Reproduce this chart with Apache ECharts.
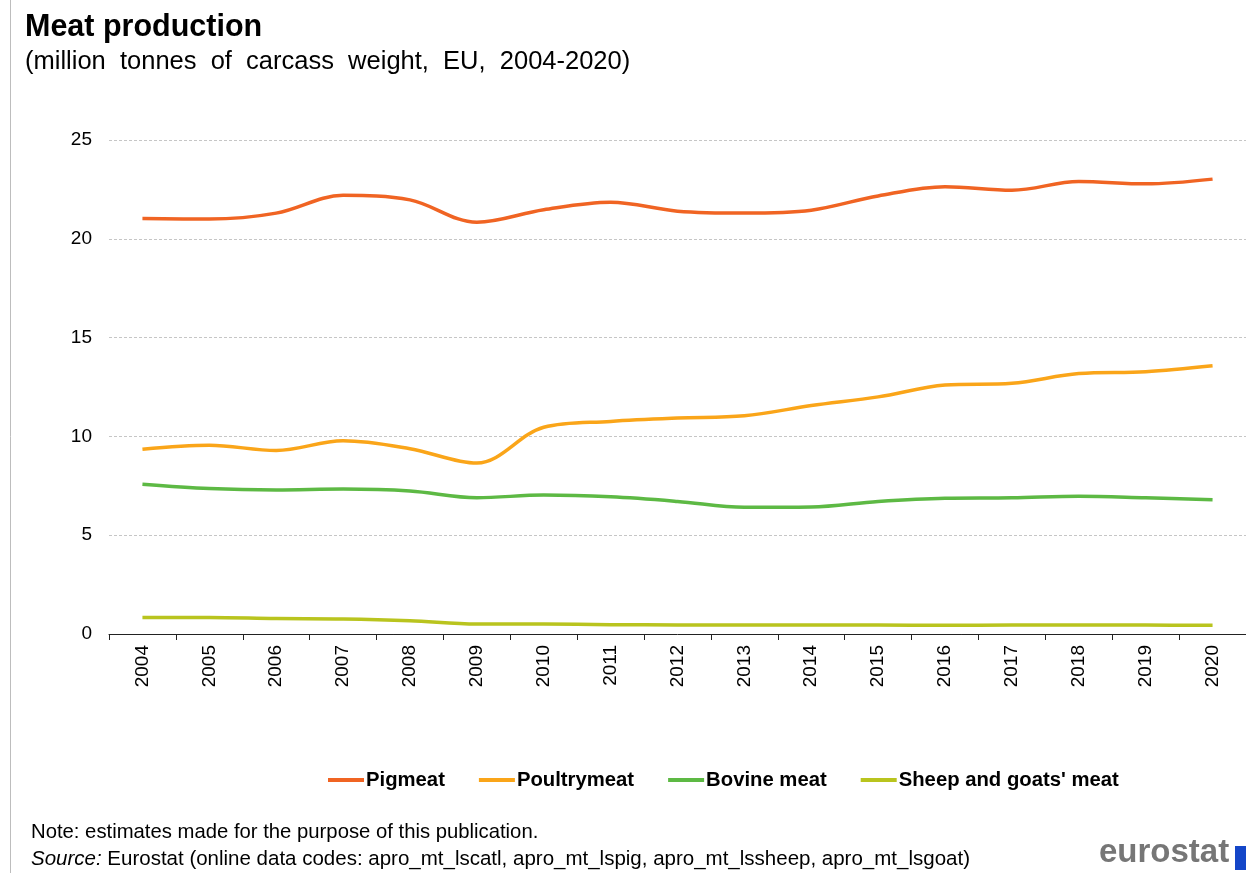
<!DOCTYPE html>
<html>
<head>
<meta charset="utf-8">
<title>Meat production</title>
<script src="https://cdn.jsdelivr.net/npm/echarts@6/dist/echarts.min.js"></script>
<style>
  html, body { margin: 0; padding: 0; background: #fff; }
  #chart { width: 1246px; height: 873px; }
</style>
</head>
<body>
<div id="chart"></div>
<script>
// EU meat production, million tonnes of carcass weight
const years = ['2004', '2005', '2006', '2007', '2008', '2009', '2010', '2011', '2012',
               '2013', '2014', '2015', '2016', '2017', '2018', '2019', '2020'];
const pigmeat     = [21.03, 21.0, 21.3, 22.2, 21.97, 20.84, 21.47, 21.85, 21.4, 21.3, 21.45, 22.17, 22.64, 22.46, 22.9, 22.78, 23.02];
const poultrymeat = [9.35, 9.55, 9.29, 9.78, 9.38, 8.65, 10.46, 10.76, 10.93, 11.04, 11.56, 12.0, 12.6, 12.69, 13.18, 13.27, 13.57];
const bovineMeat  = [7.58, 7.36, 7.29, 7.34, 7.24, 6.9, 7.03, 6.94, 6.71, 6.41, 6.43, 6.71, 6.87, 6.89, 6.97, 6.89, 6.79];
const sheepGoats  = [0.83, 0.83, 0.78, 0.76, 0.67, 0.5, 0.5, 0.47, 0.46, 0.45, 0.45, 0.45, 0.44, 0.45, 0.45, 0.45, 0.44];
const yTicks = [0, 5, 10, 15, 20, 25];

const seriesNames  = ['Pigmeat', 'Poultrymeat', 'Bovine meat', "Sheep and goats' meat"];
const seriesData   = [pigmeat, poultrymeat, bovineMeat, sheepGoats];
const seriesColors = ['#F06423', '#FAA519', '#5DB944', '#B9C41E'];

const FONT = '"Liberation Sans", Arial, sans-serif';

const chart = echarts.init(document.getElementById('chart'), null, { renderer: 'canvas' });

chart.setOption({
  animation: false,
  backgroundColor: '#ffffff',
  textStyle: { fontFamily: FONT },
  title: [
    {
      text: 'Meat production',
      left: 20, top: 7,
      textStyle: { fontFamily: FONT, fontSize: 30.5, fontWeight: 'bold', color: '#000' }
    },
    {
      text: '(million  tonnes  of  carcass  weight,  EU,  2004-2020)',
      left: 20, top: 44,
      textStyle: { fontFamily: FONT, fontSize: 25.5, fontWeight: 'normal', color: '#000' }
    }
  ],
  legend: {
    left: 323, top: 765,
    icon: 'rect',
    itemWidth: 36, itemHeight: 4,
    itemGap: 34,
    data: seriesNames,
    textStyle: { fontFamily: FONT, fontSize: 20.3, fontWeight: 'bold', color: '#000', padding: [0, 0, 0, -3] }
  },
  grid: {
    left: 109, top: 140, width: 1147.5, height: 494,
    containLabel: false
  },
  xAxis: {
    type: 'category',
    data: years,
    boundaryGap: true,
    axisLine: { show: true, lineStyle: { color: '#222', width: 1 } },
    axisTick: { show: true, length: 6, alignWithLabel: false, lineStyle: { color: '#222' } },
    axisLabel: {
      rotate: 90, margin: 11, interval: 0,
      fontFamily: FONT, fontSize: 19, color: '#000'
    },
    splitLine: { show: false }
  },
  yAxis: {
    type: 'value',
    min: yTicks[0], max: yTicks[yTicks.length - 1], interval: 5,
    axisLine: { show: false },
    axisTick: { show: false },
    axisLabel: { margin: 17, fontFamily: FONT, fontSize: 19, color: '#000' },
    splitLine: { show: true, lineStyle: { color: '#c6c6c6', type: [3, 2], width: 1 } }
  },
  series: seriesNames.map((name, i) => ({
    name: name,
    type: 'line',
    data: seriesData[i],
    smooth: 0.35,
    symbol: 'none',
    lineStyle: { color: seriesColors[i], width: 3.5 },
    itemStyle: { color: seriesColors[i] },
    z: 10 - i
  })),
  graphic: [
    {
      type: 'line',
      shape: { x1: 10.5, y1: 0, x2: 10.5, y2: 873 },
      style: { stroke: '#bdbdbd', lineWidth: 1 }
    },
    {
      type: 'text',
      left: 31, top: 822,
      style: {
        text: 'Note: estimates made for the purpose of this publication.',
        font: '20.3px "Liberation Sans", Arial, sans-serif',
        fill: '#000'
      }
    },
    {
      type: 'text',
      left: 31, top: 849,
      style: {
        text: '{i|Source:} Eurostat (online data codes: apro_mt_lscatl, apro_mt_lspig, apro_mt_lssheep, apro_mt_lsgoat)',
        font: '20.5px "Liberation Sans", Arial, sans-serif',
        fill: '#000',
        rich: {
          i: { fontStyle: 'italic', fontSize: 20.5, fontFamily: '"Liberation Sans", Arial, sans-serif', fill: '#000' }
        }
      }
    },
    {
      type: 'text',
      left: 1099, top: 836,
      style: {
        text: 'eurostat',
        font: 'bold 33px "Liberation Sans", Arial, sans-serif',
        fill: '#767676'
      }
    },
    {
      type: 'rect',
      shape: { x: 1235, y: 846, width: 14, height: 24 },
      style: { fill: '#1446C8' }
    }
  ]
});
</script>
</body>
</html>
